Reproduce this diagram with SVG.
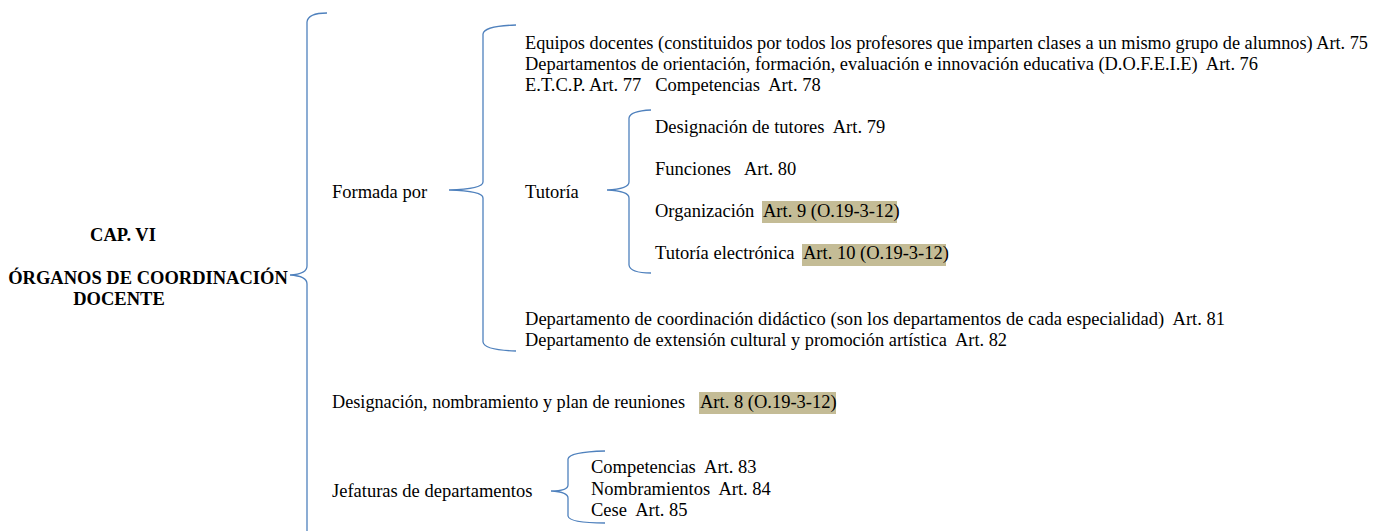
<svg xmlns="http://www.w3.org/2000/svg" width="1384" height="531" viewBox="0 0 1384 531" font-family="Liberation Serif, Times New Roman, serif" font-size="18.5">
<style>
text{fill:#000;font-family:"Liberation Serif","Times New Roman",serif;font-size:18.5px}
.b{font-weight:bold}
.br{fill:none;stroke:#4f81bd;stroke-width:1.3}
.hl{fill:#c4bc96}
</style>
<rect width="1384" height="531" fill="#fff"/>
<g id="connectors">
<path class="br" d="M327,13 Q308,13 307,22 L307,266 Q307,274 290,275 Q307,276 307,284 L307,540"/>
<path class="br" d="M516,25 Q484,26 483,34 L483,182 Q483,189 449,190 Q483,191 483,198 L483,342 Q484,350 516,351"/>
<path class="br" d="M651,110 Q630,111 629,118 L629,182 Q629,189 607,190 Q629,191 629,198 L629,265 Q630,273 651,273"/>
<path class="br" d="M605,451 Q569,452 568,459 L568,485 Q568,491 551,491 Q568,492 568,498 L568,516 Q569,523 605,523"/>
</g>
<g id="root">
<text class="b" x="123" y="241" text-anchor="middle">CAP. VI</text>
<text class="b" x="148" y="284" text-anchor="middle">ÓRGANOS DE COORDINACIÓN</text>
<text class="b" x="119" y="305" text-anchor="middle">DOCENTE</text>
</g>
<g id="formada"><text x="332" y="198">Formada por</text></g>
<g id="equipos"><text x="525" y="49" textLength="843" lengthAdjust="spacingAndGlyphs">Equipos docentes (constituidos por todos los profesores que imparten clases a un mismo grupo de alumnos) Art. 75</text></g>
<g id="dofeie"><text x="525" y="70" textLength="733" lengthAdjust="spacingAndGlyphs" xml:space="preserve">Departamentos de orientación, formación, evaluación e innovación educativa (D.O.F.E.I.E)  Art. 76</text></g>
<g id="etcp"><text x="525" y="91" xml:space="preserve">E.T.C.P. Art. 77   Competencias  Art. 78</text></g>
<g id="tutoria"><text x="525" y="198">Tutoría</text></g>
<g id="designacion-tutores"><text x="655" y="133" xml:space="preserve">Designación de tutores  Art. 79</text></g>
<g id="funciones"><text x="655" y="175" xml:space="preserve">Funciones   Art. 80</text></g>
<g id="organizacion"><rect class="hl" x="762" y="201" width="135" height="22"/><text x="655" y="217">Organización<tspan x="763">Art. 9 (O.19-3-12)</tspan></text></g>
<g id="tutoria-electronica"><rect class="hl" x="802" y="244" width="144" height="22"/><text x="655" y="259">Tutoría electrónica<tspan x="803">Art. 10 (O.19-3-12)</tspan></text></g>
<g id="coord-didactico"><text x="525" y="325" textLength="700" lengthAdjust="spacingAndGlyphs" xml:space="preserve">Departamento de coordinación didáctico (son los departamentos de cada especialidad)  Art. 81</text></g>
<g id="extension"><text x="525" y="346" textLength="482" lengthAdjust="spacingAndGlyphs" xml:space="preserve">Departamento de extensión cultural y promoción artística  Art. 82</text></g>
<g id="designacion-nombramiento"><rect class="hl" x="699" y="392" width="137" height="22"/><text x="332" y="408"><tspan textLength="353" lengthAdjust="spacingAndGlyphs">Designación, nombramiento y plan de reuniones</tspan><tspan x="700">Art. 8 (O.19-3-12)</tspan></text></g>
<g id="jefaturas"><text x="332" y="497">Jefaturas de departamentos</text></g>
<g id="competencias"><text x="591" y="473" xml:space="preserve">Competencias  Art. 83</text></g>
<g id="nombramientos"><text x="591" y="495" xml:space="preserve">Nombramientos  Art. 84</text></g>
<g id="cese"><text x="591" y="516" xml:space="preserve">Cese  Art. 85</text></g>
</svg>
